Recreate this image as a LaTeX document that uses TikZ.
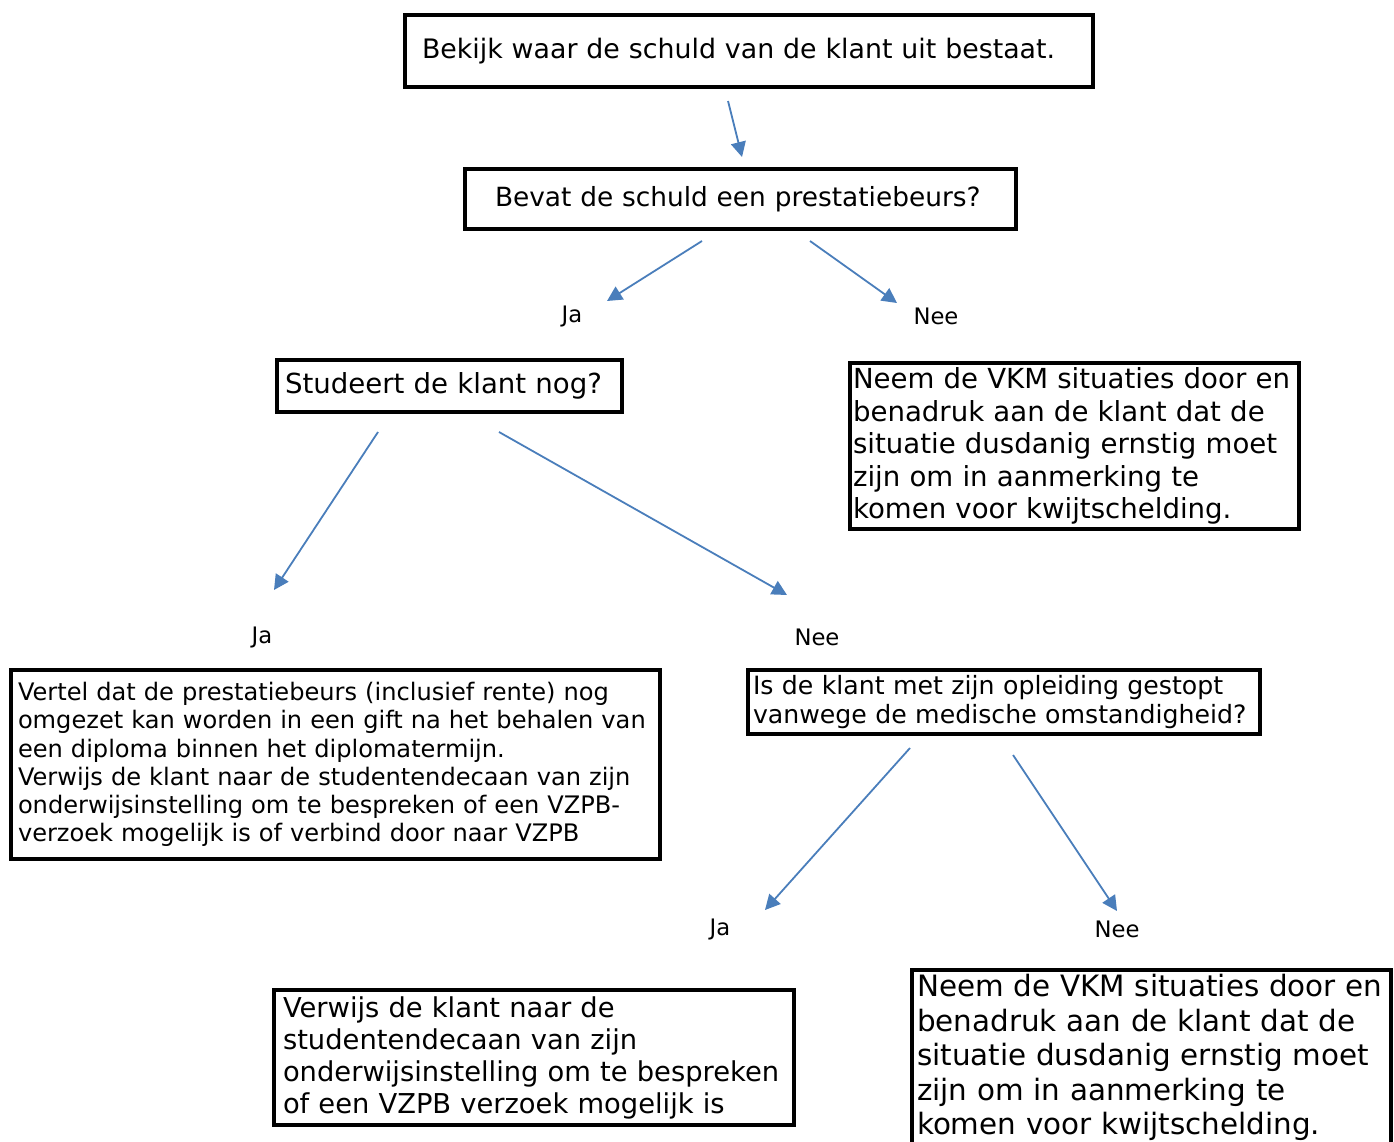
\documentclass[tikz,border=0pt]{standalone}
\usepackage{fontspec}
\setmainfont{DejaVu Sans}
\usetikzlibrary{arrows.meta}
\definecolor{arrowblue}{HTML}{4A7EBB}
\tikzset{
  box/.style={draw=black, line width=4pt, anchor=north west, align=left, inner ysep=0pt, outer sep=0pt, fill=white},
  conn/.style={draw=arrowblue, line width=1.8pt, -{Triangle[length=15pt,width=15pt]}},
  lbl/.style={font=\fontsize{22.7}{27}\selectfont, inner sep=0pt},
}
\begin{document}
\begin{tikzpicture}[x=1pt,y=-1pt]
\useasboundingbox (0,0) rectangle (1394,1142);
% boxes
\node[box, minimum width=688pt, minimum height=72pt, inner xsep=17pt, text width=654pt,
  font=\fontsize{26.8}{31}\selectfont] (b1) at (405,15) {Bekijk waar de schuld van de klant uit bestaat.};
\node[box, minimum width=551pt, minimum height=60pt, inner xsep=30pt, text width=491pt,
  font=\fontsize{26.4}{31}\selectfont] (b2) at (465,169) {Bevat de schuld een prestatiebeurs?};
\node[box, minimum width=345pt, minimum height=52pt, inner xsep=8pt, text width=329pt,
  font=\fontsize{27.6}{32}\selectfont] (b3) at (277,360) {Studeert de klant nog?};
\node[box, minimum width=449pt, minimum height=166pt, inner xsep=3pt, text width=443pt,
  font=\fontsize{27.6}{32.5}\selectfont] (b4) at (850,363) {Neem de VKM situaties door en\\benadruk aan de klant dat de\\situatie dusdanig ernstig moet\\zijn om in aanmerking te\\komen voor kwijtschelding.};
\node[box, minimum width=649pt, minimum height=189pt, inner xsep=7pt, text width=635pt,
  font=\fontsize{24.1}{28.2}\selectfont] (b5) at (11,670) {Vertel dat de prestatiebeurs (inclusief rente) nog\\omgezet kan worden in een gift na het behalen van\\een diploma binnen het diplomatermijn.\\Verwijs de klant naar de studentendecaan van zijn\\onderwijsinstelling om te bespreken of een VZPB-\\verzoek mogelijk is of verbind door naar VZPB};
\node[box, minimum width=512pt, minimum height=64pt, inner xsep=5pt, text width=502pt,
  font=\fontsize{25.2}{29}\selectfont] (b6) at (748,670) {Is de klant met zijn opleiding gestopt\\vanwege de medische omstandigheid?};
\node[box, minimum width=520pt, minimum height=135pt, inner xsep=9pt, text width=502pt,
  font=\fontsize{27.35}{32}\selectfont] (b7) at (274,990) {Verwijs de klant naar de\\studentendecaan van zijn\\onderwijsinstelling om te bespreken\\of een VZPB verzoek mogelijk is};
\node[box, minimum width=479pt, minimum height=175pt, inner xsep=5pt, text width=469pt,
  font=\fontsize{29.4}{34.5}\selectfont] (b8) at (912,970) {Neem de VKM situaties door en\\benadruk aan de klant dat de\\situatie dusdanig ernstig moet\\zijn om in aanmerking te\\komen voor kwijtschelding.};
% labels
\node[lbl] (ja1) at (572,316) {Ja};
\node[lbl] (nee1) at (936,316) {Nee};
\node[lbl] (ja2) at (262,637) {Ja};
\node[lbl] (nee2) at (817,637) {Nee};
\node[lbl] (ja3) at (720,929) {Ja};
\node[lbl] (nee3) at (1117,929) {Nee};
% connector end points
\coordinate (a1s) at (728,101); \coordinate (a1e) at (742,157);
\coordinate (a2s) at (702,241); \coordinate (a2e) at (607,301);
\coordinate (a3s) at (810,241); \coordinate (a3e) at (897,303);
\coordinate (a4s) at (378,432); \coordinate (a4e) at (274,590);
\coordinate (a5s) at (499,432); \coordinate (a5e) at (787,595);
\coordinate (a6s) at (910,748); \coordinate (a6e) at (765,910);
\coordinate (a7s) at (1013,755); \coordinate (a7e) at (1117,911);
\draw[conn] (a1s) -- (a1e);
\draw[conn] (a2s) -- (a2e);
\draw[conn] (a3s) -- (a3e);
\draw[conn] (a4s) -- (a4e);
\draw[conn] (a5s) -- (a5e);
\draw[conn] (a6s) -- (a6e);
\draw[conn] (a7s) -- (a7e);
\end{tikzpicture}
\end{document}
